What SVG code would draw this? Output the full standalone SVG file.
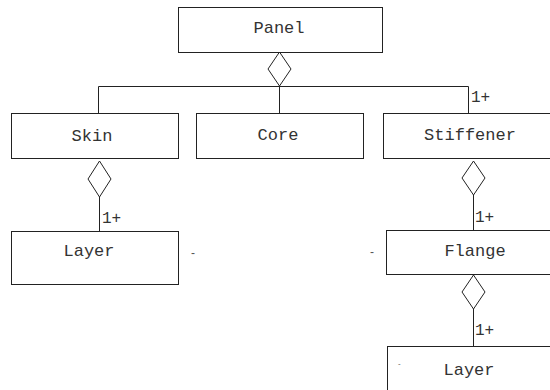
<svg xmlns="http://www.w3.org/2000/svg" width="550" height="390" viewBox="0 0 550 390">
  <style>
    .box { fill: #ffffff; stroke: #222; stroke-width: 1; }
    .lbl { font-family: "Liberation Mono", "Courier New", monospace; font-size: 17px; fill: #333; text-anchor: middle; }
    .mult { font-family: "Liberation Mono", "Courier New", monospace; font-size: 16px; fill: #333; }
    .tick { font-family: "Liberation Sans", Arial, sans-serif; font-size: 12px; fill: #555; }
    .edge { fill: none; stroke: #222; stroke-width: 1; }
    .agg { fill: #ffffff; stroke: #222; stroke-width: 1; }
  </style>
  <rect width="550" height="390" fill="#ffffff"/>

  <g id="connectors">
    <!-- Panel aggregation -->
    <polyline class="edge" points="98.5,113 98.5,86.5 468.5,86.5 468.5,113"/>
    <line class="edge" x1="279.5" y1="86.5" x2="279.5" y2="113"/>
    <polygon class="agg" points="279.5,52 291,69 279.5,86 268,69"/>
    <text class="mult" x="471" y="102">1+</text>
    <!-- Skin to Layer -->
    <line class="edge" x1="99.5" y1="197" x2="99.5" y2="231"/>
    <polygon class="agg" points="99.5,161 111,179 99.5,197 88,179"/>
    <text class="mult" x="102" y="223">1+</text>
    <!-- Stiffener to Flange -->
    <line class="edge" x1="473.5" y1="195" x2="473.5" y2="230"/>
    <polygon class="agg" points="473.5,161 485,178 473.5,195 462,178"/>
    <text class="mult" x="475" y="222">1+</text>
    <!-- Flange to Layer -->
    <line class="edge" x1="473.5" y1="309" x2="473.5" y2="346"/>
    <polygon class="agg" points="473.5,275 485,292 473.5,309 462,292"/>
    <text class="mult" x="475" y="335">1+</text>
  </g>

  <g id="panel">
    <rect class="box" x="178.5" y="7.5" width="204" height="45"/>
    <text class="lbl" x="279" y="33">Panel</text>
  </g>
  <g id="skin">
    <rect class="box" x="11.5" y="113.5" width="167" height="45"/>
    <text class="lbl" x="92" y="141">Skin</text>
  </g>
  <g id="core">
    <rect class="box" x="196.5" y="113.5" width="167" height="45"/>
    <text class="lbl" x="278" y="140">Core</text>
  </g>
  <g id="stiffener">
    <rect class="box" x="383.5" y="113.5" width="167" height="45"/>
    <text class="lbl" x="470" y="140">Stiffener</text>
  </g>
  <g id="skin-layer">
    <rect class="box" x="11.5" y="231.5" width="167" height="53"/>
    <text class="lbl" x="89" y="256">Layer</text>
    <text class="tick" x="191" y="257">-</text>
  </g>
  <g id="flange">
    <rect class="box" x="386.5" y="230.5" width="167" height="44"/>
    <text class="lbl" x="475" y="256">Flange</text>
    <text class="tick" x="370" y="256">-</text>
  </g>
  <g id="flange-layer">
    <rect class="box" x="387.5" y="346.5" width="167" height="60"/>
    <text class="lbl" x="469" y="375">Layer</text>
    <text class="tick" x="398" y="366" style="font-size:8px">-</text>
  </g>
</svg>
